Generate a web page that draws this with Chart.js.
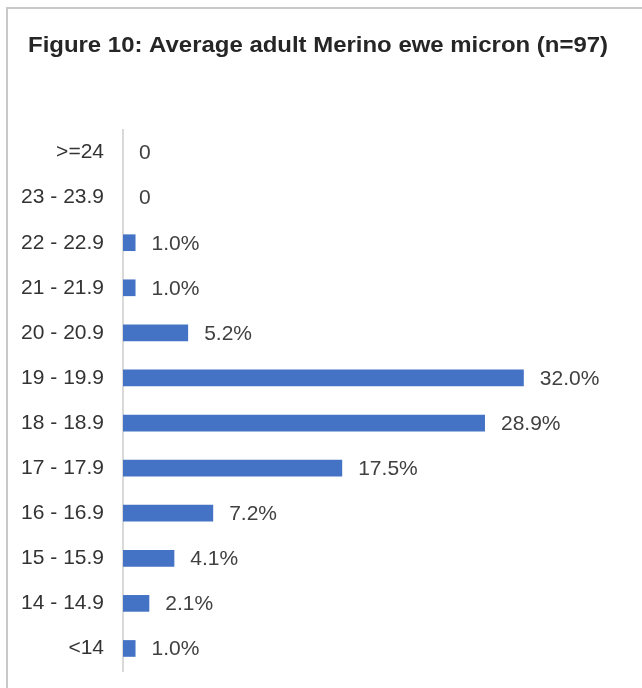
<!DOCTYPE html>
<html>
<head>
<meta charset="utf-8">
<script src="https://cdn.jsdelivr.net/npm/chart.js@4/dist/chart.umd.min.js"></script>
<style>
html,body{margin:0;padding:0;background:#fff;}
#wrap{position:relative;width:642px;height:688px;}
canvas{display:block;}
</style>
</head>
<body>
<div id="wrap"><canvas id="c" width="642" height="688"></canvas></div>
<script>
const titleText = "Figure 10: Average adult Merino ewe micron (n=97)";
const categories = [">=24","23 - 23.9","22 - 22.9","21 - 21.9","20 - 20.9","19 - 19.9","18 - 18.9","17 - 17.9","16 - 16.9","15 - 15.9","14 - 14.9","<14"];
const values = [0,0,1.0,1.0,5.2,32.0,28.9,17.5,7.2,4.1,2.1,1.0];
const valueLabels = ["0","0","1.0%","1.0%","5.2%","32.0%","28.9%","17.5%","7.2%","4.1%","2.1%","1.0%"];

const FONT = "'Liberation Sans', Arial, sans-serif";

const framePlugin = {
  id: 'frame',
  beforeDraw(chart){
    const ctx = chart.ctx;
    ctx.save();
    ctx.strokeStyle = '#c8c8c8';
    ctx.lineWidth = 2;
    ctx.beginPath();
    ctx.moveTo(7, 688);
    ctx.lineTo(7, 8);
    ctx.lineTo(642, 8);
    ctx.stroke();
    ctx.fillStyle = '#262626';
    ctx.font = "bold 22px " + FONT;
    ctx.textBaseline = 'alphabetic';
    ctx.textAlign = 'left';
    const w = ctx.measureText(titleText).width;
    const sx = 580 / w;
    ctx.translate(28, 52);
    ctx.scale(sx, 1);
    ctx.fillText(titleText, 0, 0);
    ctx.restore();
  },
  afterDatasetsDraw(chart){
    const ctx = chart.ctx;
    const meta = chart.getDatasetMeta(0);
    ctx.save();
    ctx.fillStyle = '#404040';
    ctx.font = "21px " + FONT;
    ctx.textBaseline = 'middle';
    ctx.textAlign = 'left';
    meta.data.forEach((bar, i) => {
      ctx.fillText(valueLabels[i], bar.x + 16, bar.y + 1);
    });
    ctx.restore();
  }
};

new Chart(document.getElementById('c'), {
  type: 'bar',
  data: {
    labels: categories,
    datasets: [{
      data: values,
      backgroundColor: '#4472C4',
      borderWidth: 0,
      barPercentage: 0.37,
      categoryPercentage: 1.0
    }]
  },
  options: {
    indexAxis: 'y',
    responsive: false,
    animation: false,
    devicePixelRatio: 1,
    layout: { padding: { top: 130, left: 20, right: 18, bottom: 17 } },
    plugins: { legend: { display: false }, tooltip: { enabled: false }, title: { display: false } },
    scales: {
      x: { display: false, min: 0, max: 40 },
      y: {
        afterFit(scale){ scale.width = 103; scale.paddingTop = 0; scale.paddingBottom = 0; },
        grid: { display: false, drawTicks: false },
        border: { display: true, color: '#d9d9d9', width: 2 },
        ticks: { color: '#333333', font: { family: FONT, size: 21 }, padding: 19, autoSkip: false }
      }
    }
  },
  plugins: [framePlugin]
});
</script>
</body>
</html>
